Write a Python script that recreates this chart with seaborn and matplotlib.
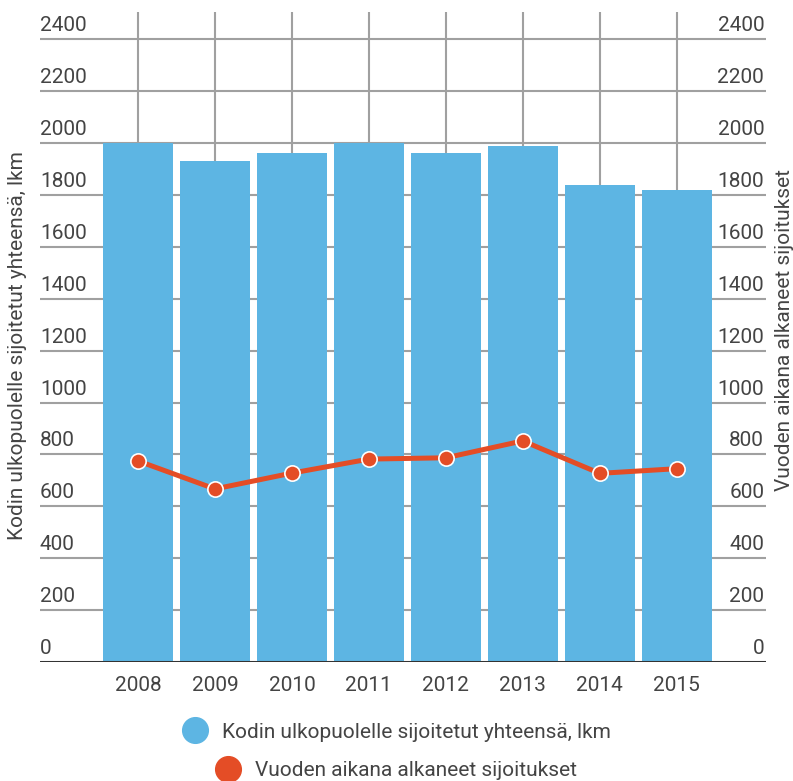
import matplotlib
matplotlib.use("Agg")
import matplotlib.pyplot as plt
import matplotlib.transforms as mtransforms
from matplotlib.lines import Line2D
import seaborn as sns
import pandas as pd

# Data
years = ["2008", "2009", "2010", "2011", "2012", "2013", "2014", "2015"]
placed_total = [2000, 1930, 1961, 2000, 1961, 1988, 1838, 1819]
started_in_year = [775, 667, 728, 782, 787, 852, 727, 745]
y_ticks = [0, 200, 400, 600, 800, 1000, 1200, 1400, 1600, 1800, 2000, 2200, 2400]

label_total = "Kodin ulkopuolelle sijoitetut yhteensä, lkm"
label_started = "Vuoden aikana alkaneet sijoitukset"

BAR = "#5db5e3"
LINE = "#e44d26"
TEXT = "#444444"
GRID = "#a0a0a0"
FS = 15

sns.set_theme(style="white")
plt.rcParams["font.family"] = ["Roboto", "DejaVu Sans"]

df = pd.DataFrame({"year": years, "total": placed_total, "started": started_in_year})

W, H = 793, 781
fig = plt.figure(figsize=(W / 100, H / 100), dpi=100)
ax = fig.add_axes([40 / W, 119 / H, 726 / W, 650 / H])

sns.barplot(data=df, x="year", y="total", color=BAR, width=0.91,
            saturation=1, ax=ax, linewidth=0)
for p in ax.patches:
    p.set_zorder(3)
    p.set_edgecolor("none")
sns.pointplot(data=df, x="year", y="started", color=LINE, ax=ax,
              linewidth=3.6, markers="o", markersize=11,
              markeredgecolor="white", markeredgewidth=1.2)
for coll in ax.collections:
    coll.set_zorder(5)
for ln in ax.lines:
    ln.set_zorder(5)

ax.set_xlim(-1.273, 8.16)
ax.set_ylim(0, 2505)

# grid
for v in y_ticks[1:]:
    ax.axhline(v, color=GRID, lw=1.5, zorder=1)
for i in range(len(years)):
    ax.axvline(i, color=GRID, lw=1.5, zorder=1)
ax.axhline(0, color="#333333", lw=2.2, zorder=4)

for s in ax.spines.values():
    s.set_visible(False)
ax.set_yticks([])
ax.set_xlabel("")
ax.set_ylabel("")
ax.tick_params(axis="x", length=0, pad=10, labelsize=FS, labelcolor=TEXT)

# value labels sitting on the gridlines, both sides
trans = mtransforms.blended_transform_factory(ax.transAxes, ax.transData)
off = mtransforms.offset_copy(trans, fig=fig, x=0, y=4, units="dots")
for v in y_ticks:
    ax.text(0.0, v, str(v), transform=off, ha="left", va="bottom",
            fontsize=FS, color=TEXT, zorder=6)
    ax.text(0.9975, v, str(v), transform=off, ha="right", va="bottom",
            fontsize=FS, color=TEXT, zorder=6)

# axis titles
fig.text(18 / W, 1 - 346 / H, label_total, rotation=90, ha="center",
         va="center", fontsize=FS, color=TEXT)
fig.text(785 / W, 1 - 330 / H, label_started, rotation=90, ha="center",
         va="center", fontsize=FS, color=TEXT)

# legend, one centred row per series
for lab, col, yy in [(label_total, BAR, 732), (label_started, LINE, 771)]:
    h = Line2D([], [], marker="o", linestyle="none", markersize=18.5,
               markerfacecolor=col, markeredgecolor=col)
    fig.legend([h], [lab], loc="center", bbox_to_anchor=(0.5, 1 - yy / H),
               frameon=False, fontsize=FS, labelcolor=TEXT,
               handletextpad=0.7, borderpad=0, handlelength=1.2)

fig.savefig("out.png", dpi=100)
